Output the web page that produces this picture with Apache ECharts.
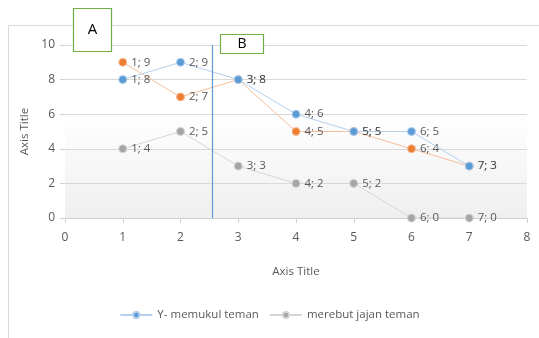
<!DOCTYPE html>
<html><head><meta charset="utf-8">
<script src="https://cdn.jsdelivr.net/npm/echarts@6/dist/echarts.min.js"></script>
<style>html,body{margin:0;padding:0;background:#fff}#c{width:539px;height:338px}</style>
</head><body><div id="c"></div>
<script>
var xValues = [1, 2, 3, 4, 5, 6, 7];
var seriesNames = ['Y- memukul teman', 'Series2', 'merebut jajan teman'];
var memukul = [8, 9, 8, 6, 5, 5, 3];
var series2 = [9, 7, 8, 5, 5, 4, 3];
var merebut = [4, 5, 3, 2, 2, 0, 0];
var xTicks = [0, 1, 2, 3, 4, 5, 6, 7, 8];
var yTicks = [0, 2, 4, 6, 8, 10];
var dividerX = 2.55;
var boxLabels = ['A', 'B'];

var font = '"Open Sans", sans-serif';
function pts(vals){ return xValues.map(function(x,i){ return [x, vals[i]]; }); }
function mk(name, vals, color, lineColor, showLegend){
  return {
    name: name, type: 'line', data: pts(vals), symbol: 'circle', symbolSize: 8,
    itemStyle: {color: color, borderColor: lineColor, borderWidth: 1},
    lineStyle: {color: lineColor, width: 1},
    label: {show: true, position: 'right', distance: 4, color: '#595959', fontSize: 11.5, fontFamily: font,
      formatter: function(p){ return p.value[0] + '; ' + p.value[1]; }},
    z: showLegend ? 3 : 2
  };
}
var chart = echarts.init(document.getElementById('c'));
var s1 = mk(seriesNames[0], memukul, '#5b9bd5', '#b4d0ee', true);
s1.markLine = {silent: true, symbol: 'none', label: {show: false},
  lineStyle: {color: '#5b9bd5', type: 'solid', width: 1.2}, data: [{xAxis: dividerX}]};
var option = {
  animation: false,
  textStyle: {fontFamily: font},
  grid: {left: 65, right: 12, top: 45, bottom: 120, show: true, borderWidth: 0,
    backgroundColor: new echarts.graphic.LinearGradient(0, 0, 0, 1, [
      {offset: 0, color: '#ffffff'}, {offset: 0.4, color: '#ffffff'}, {offset: 1, color: '#efefef'}])},
  legend: {data: [seriesNames[0], seriesNames[2]], bottom: 12, left: 'center', itemGap: 10,
    itemWidth: 32, itemHeight: 8,
    textStyle: {color: '#595959', fontSize: 11.5, fontFamily: font}},
  xAxis: {type: 'value', min: xTicks[0], max: xTicks[xTicks.length-1], interval: 1,
    name: 'Axis Title', nameLocation: 'middle', nameGap: 48,
    nameTextStyle: {color: '#595959', fontSize: 11.5, fontFamily: font},
    axisLine: {show: true, lineStyle: {color: '#d0d0d0'}},
    axisTick: {show: true, length: 5, lineStyle: {color: '#d0d0d0'}},
    axisLabel: {color: '#595959', fontSize: 12, margin: 14, fontFamily: font},
    splitLine: {show: false}},
  yAxis: {type: 'value', min: yTicks[0], max: yTicks[yTicks.length-1], interval: 2,
    name: 'Axis Title', nameLocation: 'middle', nameGap: 28,
    nameTextStyle: {color: '#595959', fontSize: 11.5, fontFamily: font},
    axisLine: {show: false}, axisTick: {show: true, length: 5, lineStyle: {color: '#d0d0d0'}},
    axisLabel: {color: '#595959', fontSize: 12, margin: 10, fontFamily: font},
    splitLine: {show: true, lineStyle: {color: '#d9d9d9', width: 1}}},
  graphic: [
    {type: 'line', shape: {x1: 8, y1: 25.5, x2: 539, y2: 25.5}, style: {stroke: '#d9d9d9', lineWidth: 1}, z: -1},
    {type: 'line', shape: {x1: 8.5, y1: 25, x2: 8.5, y2: 338}, style: {stroke: '#d9d9d9', lineWidth: 1}, z: -1},
    {type: 'rect', shape: {x: 73.5, y: 8.5, width: 38, height: 43}, style: {fill: '#fff', stroke: '#70ad47', lineWidth: 1.2}, z: 10},
    {type: 'text', x: 92.5, y: 30, style: {text: boxLabels[0], fontSize: 15, fill: '#000', fontFamily: font, align: 'center', verticalAlign: 'middle'}, z: 11},
    {type: 'rect', shape: {x: 220.5, y: 34.5, width: 43, height: 19}, style: {fill: '#fff', stroke: '#70ad47', lineWidth: 1.2}, z: 10},
    {type: 'text', x: 242, y: 44.5, style: {text: boxLabels[1], fontSize: 14, fill: '#000', fontFamily: font, align: 'center', verticalAlign: 'middle'}, z: 11}
  ],
  series: [
    s1,
    mk(seriesNames[1], series2, '#ed7d31', '#f6bf9c', false),
    mk(seriesNames[2], merebut, '#a5a5a5', '#d6d6d6', true)
  ]
};
chart.setOption(option);
</script></body></html>
